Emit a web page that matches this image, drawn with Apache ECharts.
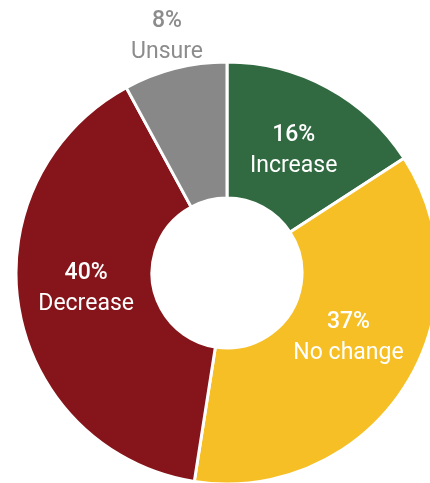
<!DOCTYPE html>
<html>
<head>
<meta charset="utf-8">
<script src="https://cdn.jsdelivr.net/npm/echarts@6/dist/echarts.min.js"></script>
<style>
  html, body { margin: 0; padding: 0; background: #fff; }
  #chart { width: 430px; height: 483px; }
</style>
</head>
<body>
<div id="chart"></div>
<script>
// 数据
const categories = ['Increase', 'No change', 'Decrease', 'Unsure']
const values = [16, 37, 40, 8]
const colors = ['#316a40', '#f5bf25', '#85151a', '#888888']

const chart = echarts.init(document.getElementById('chart'))

const data = categories.map((name, i) => {
  const item = { name: name, value: values[i], itemStyle: { color: colors[i] } }
  if (i === 3) {
    // Unsure 的标签放在外面
    item.label = {
      position: 'outside',
      rich: {
        p: { color: '#8c8c8c', fontSize: 23, fontWeight: 500, lineHeight: 31, fontFamily: 'Roboto' },
        n: { color: '#8c8c8c', fontSize: 23, lineHeight: 31, fontFamily: 'Roboto' }
      }
    }
    item.labelLine = { show: false, length: 0, length2: 0 }
  }
  return item
})

chart.setOption({
  animation: false,
  series: [
    {
      type: 'pie',
      center: [227, 273],
      radius: [75, 211],
      startAngle: 90,
      clockwise: true,
      data: data,
      itemStyle: { borderColor: '#fff', borderWidth: 3 },
      label: {
        show: true,
        position: 'inside',
        formatter: p => '{p|' + p.value + '%}\n{n|' + p.name + '}',
        rich: {
          p: { color: '#fff', fontSize: 23, fontWeight: 500, lineHeight: 31, fontFamily: 'Roboto' },
          n: { color: '#fff', fontSize: 23, lineHeight: 31, fontFamily: 'Roboto' }
        }
      },
      // 标签微调
      labelLayout: function (params) {
        switch (params.dataIndex) {
          case 0: return { dx: -3, dy: 6 }
          case 1: return { dx: -1, dy: -15 }
          case 2: return { dx: 3, dy: -9 }
          case 3: return { align: 'center', verticalAlign: 'bottom', dx: -3, dy: -1 }
        }
        return {}
      }
    }
  ]
})
</script>
</body>
</html>
